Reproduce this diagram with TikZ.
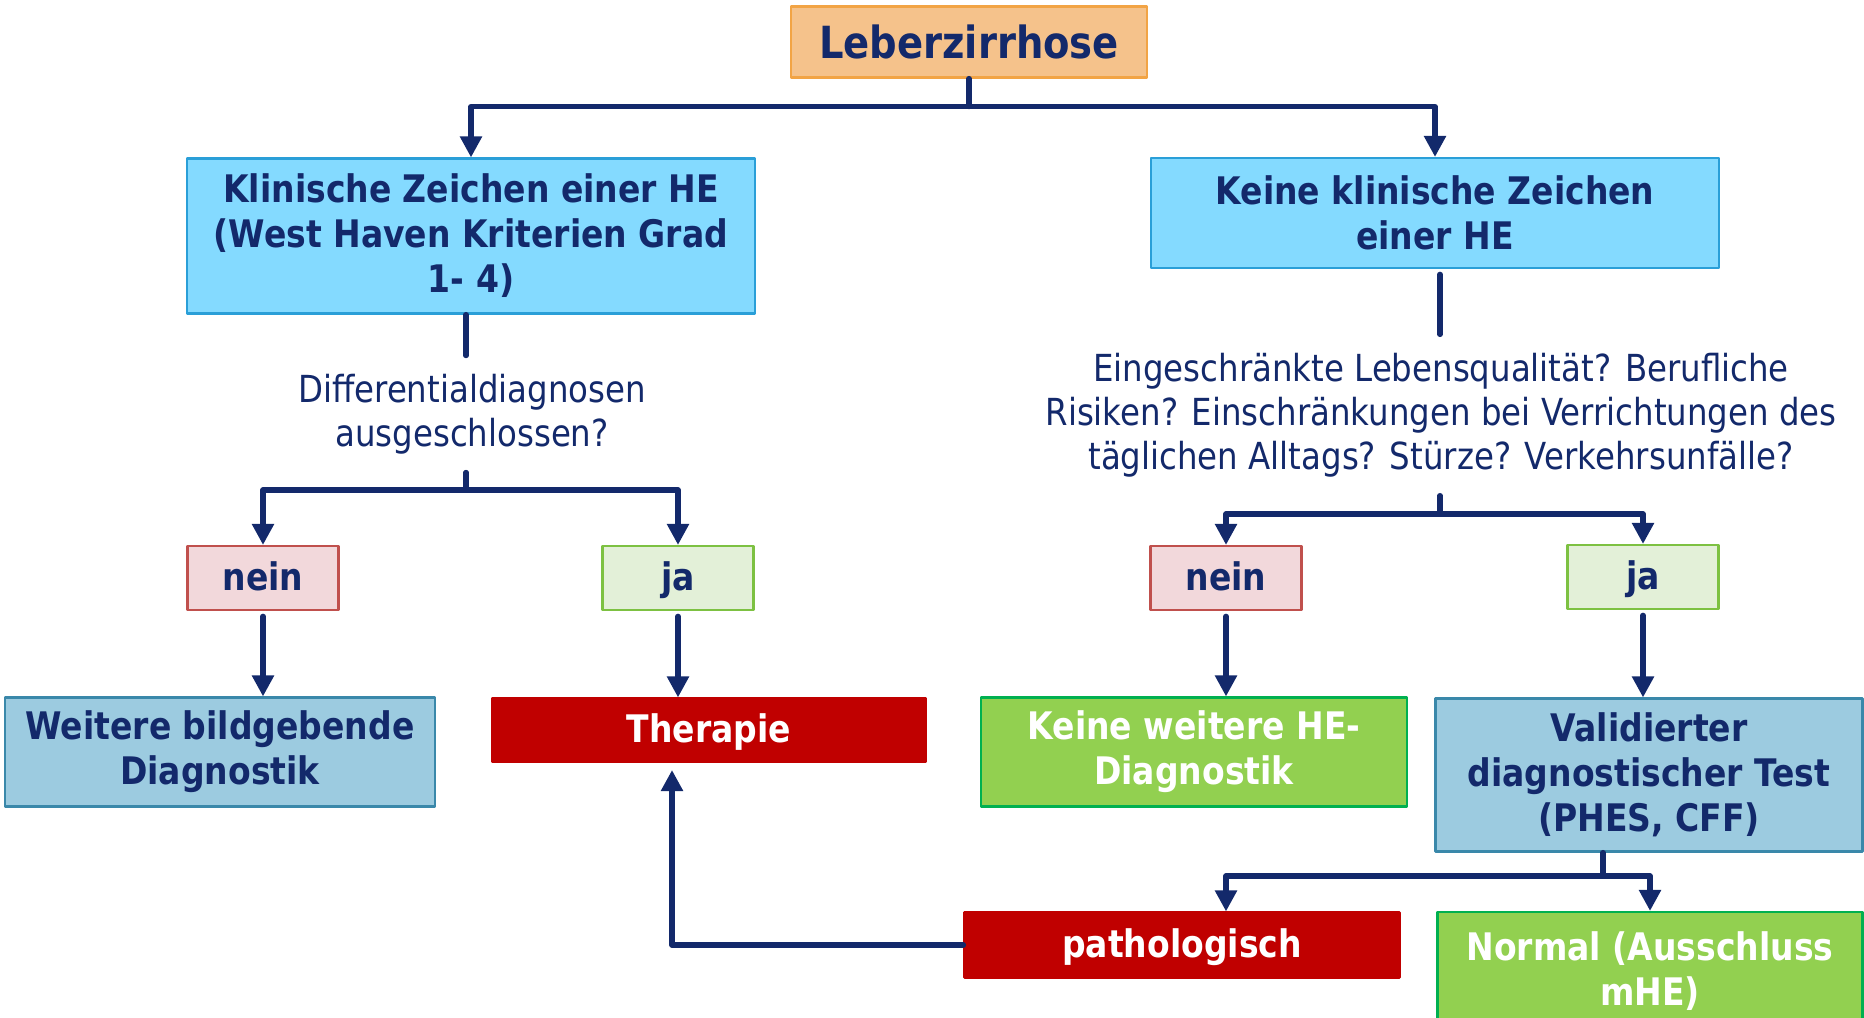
\documentclass[tikz,border=0pt]{standalone}
\usepackage{fontspec}
\setmainfont{DejaVu Sans}[FakeStretch=0.87]
\usetikzlibrary{arrows.meta}

\definecolor{navy}{HTML}{13296B}
\definecolor{peach}{HTML}{F5C28B}
\definecolor{peachline}{HTML}{F2A445}
\definecolor{skyfill}{HTML}{84DAFF}
\definecolor{skyline}{HTML}{2A9FD8}
\definecolor{steelfill}{HTML}{9CCBE0}
\definecolor{steelline}{HTML}{3A88AA}
\definecolor{roseFill}{HTML}{F2D8DB}
\definecolor{roseline}{HTML}{C0504D}
\definecolor{mintfill}{HTML}{E3F0D8}
\definecolor{mintline}{HTML}{7DC142}
\definecolor{darkred}{HTML}{C00000}
\definecolor{leaf}{HTML}{92D050}
\definecolor{leafline}{HTML}{00B050}

\begin{document}
\begin{tikzpicture}[
	x=0.1mm, y=-0.1mm,
	every node/.style={font=\fontsize{10.8}{12.8}\selectfont\bfseries, text=navy, align=center, inner sep=0pt},
	line cap=round,
	line join=round,
	box/.style={draw, line width=0.6pt},
	oneline/.style={text height=9.3pt, text depth=2.4pt},
	startbox/.style={box, fill=peach, draw=peachline, font=\fontsize{12.6}{15}\selectfont\bfseries},
	skybox/.style={box, fill=skyfill, draw=skyline},
	steelbox/.style={box, fill=steelfill, draw=steelline},
	neinbox/.style={box, oneline, fill=roseFill, draw=roseline, minimum width=15.1mm, minimum height=6.4mm},
	jabox/.style={box, oneline, fill=mintfill, draw=mintline, minimum width=15.1mm, minimum height=6.4mm},
	redbox/.style={box, oneline, fill=darkred, draw=darkred, text=white},
	leafbox/.style={box, fill=leaf, draw=leafline, text=white},
	question/.style={font=\fontsize{10.6}{12.6}\selectfont, inner sep=5pt},
	link/.style={draw=navy, line width=1.5pt},
	arr/.style={link, -{Triangle[length=6pt,width=6pt]}}
	]
	
	\useasboundingbox (0,0) rectangle (1864,1017);
	\clip (0,0) rectangle (1864,1017);
	
	% Top
	\node[startbox, minimum width=35.6mm, minimum height=7.1mm] (leber) at (969,42) {Leberzirrhose};
	
	\node[skybox, minimum width=56.8mm, minimum height=15.5mm] (klin) at (471,236)
	{Klinische Zeichen einer HE\\(West Haven Kriterien Grad\\1- 4)};
	\node[skybox, minimum width=56.8mm, minimum height=11mm] (keinekl) at (1435,213)
	{Keine klinische Zeichen\\einer HE};
	
	\draw[link] (leber.south) -- ++(0,28) coordinate (jt);
	\draw[arr] (jt) -| (klin.north);
	\draw[arr] (jt) -| (keinekl.north);
	
	% Left branch
	\node[question] (qleft) at (472,414) {Differentialdiagnosen\\ausgeschlossen?};
	\node[neinbox] (neinL) at (263,578) {nein};
	\node[jabox] (jaL) at (678,578) {ja};
	\node[steelbox, minimum width=43mm, minimum height=10.9mm] (weitere) at (220,752)
	{Weitere bildgebende\\Diagnostik};
	\node[redbox, minimum width=43.4mm, minimum height=6.3mm] (therapie) at (709,730) {Therapie};
	
	\coordinate (jl) at (466,490);
	\draw[link] (jl |- klin.south) -- (jl |- qleft.north);
	\draw[link] (jl |- qleft.south) -- (jl);
	\draw[arr] (jl) -| (neinL.north);
	\draw[arr] (jl) -| (jaL.north);
	\draw[arr, shorten <=1.5pt] (neinL.south) -- (neinL.south |- weitere.north);
	\draw[arr, shorten <=1.5pt] (jaL.south) -- (jaL.south |- therapie.north);
	
	% Right branch
	\node[question] (qright) at (1441,415)
	{Eingeschränkte Lebensqualität? Berufliche\\Risiken? Einschränkungen bei Verrichtungen des\\täglichen Alltags? Stürze? Verkehrsunfälle?};
	\node[neinbox] (neinR) at (1226,578) {nein};
	\node[jabox] (jaR) at (1643,577) {ja};
	\node[leafbox, minimum width=42.6mm, minimum height=10.9mm] (keineweit) at (1194,752)
	{Keine weitere HE-\\Diagnostik};
	\node[steelbox, minimum width=42.7mm, minimum height=15.3mm] (valid) at (1649,775)
	{Validierter\\diagnostischer Test\\(PHES, CFF)};
	
	\coordinate (jr) at (1440,514);
	\draw[link, shorten <=1.5pt] (jr |- keinekl.south) -- (jr |- qright.north);
	\draw[link] (jr |- qright.south) -- (jr);
	\draw[arr] (jr) -| (neinR.north);
	\draw[arr] (jr) -| (jaR.north);
	\draw[arr, shorten <=1.5pt] (neinR.south) -- (neinR.south |- keineweit.north);
	\draw[arr, shorten <=1.5pt] (jaR.south) -- (jaR.south |- valid.north);
	
	% Test result
	\node[redbox, minimum width=43.5mm, minimum height=6.5mm] (patho) at (1182,945) {pathologisch};
	\node[leafbox, minimum width=42.5mm, minimum height=11.8mm] (normal) at (1650,971)
	{Normal (Ausschluss\\mHE)};
	
	\coordinate (jv) at (1603,876);
	\draw[link] (jv |- valid.south) -- (jv);
	\draw[arr] (jv) -| (patho.north -| neinR.south);
	\draw[arr] (jv) -| (normal.north);
	
	% back to Therapie
	\coordinate (fb) at (672,770);
	\draw[arr] (patho.west) -| (fb);
	
\end{tikzpicture}
\end{document}
